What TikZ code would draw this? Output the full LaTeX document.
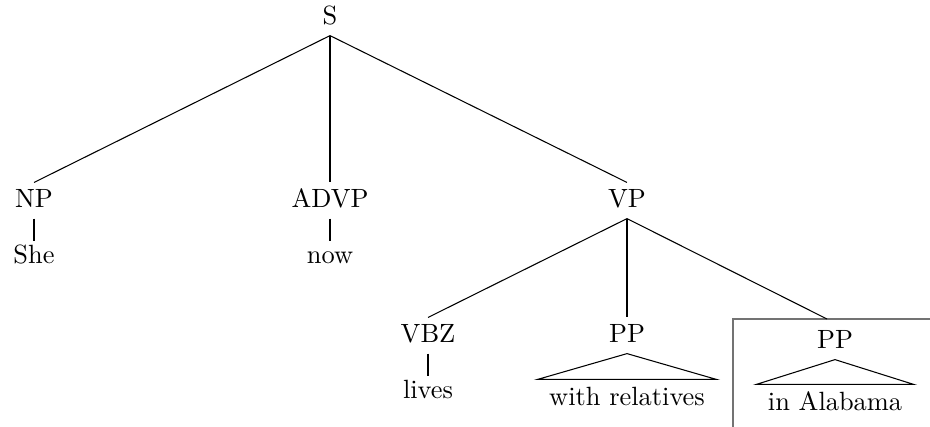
\documentclass[tikz,border=0pt]{standalone}
\begin{document}
\begin{tikzpicture}[x=0.379pt,y=-0.379pt,
  cat/.style={anchor=base,inner sep=0pt,text height=9.1pt,text depth=4.2pt},
  word/.style={anchor=base,inner sep=0pt,text height=8.3pt,text depth=0pt},
  roof/.style={anchor=base,inner ysep=0pt,inner xsep=4.2pt,text height=9.5pt,text depth=0pt},
  edge/.style={draw=black,line width=0.4pt},
  boxline/.style={draw=black!55,line width=0.7pt}]
\useasboundingbox (0,0) rectangle (930,426);
% categories
\node[cat] (S) at (330,24) {S};
\node[cat] (NP) at (34,207) {NP};
\node[cat] (ADVP) at (330,207) {ADVP};
\node[cat] (VP) at (627,207) {VP};
\node[cat] (VBZ) at (428,342) {VBZ};
\node[cat] (PP1) at (627,342) {PP};
\node[cat] (PP2) at (835,348) {PP};
% words
\node[word] (she) at (34,263) {She};
\node[word] (now) at (330,263) {now};
\node[word] (lives) at (428,398) {lives};
\node[roof] (wr) at (627,405) {with relatives};
\node[roof] (ia) at (835,410) {in Alabama};
% box around boxed PP
\coordinate (boxtop) at (827,319);
\begin{scope}
\clip (0,0) rectangle (930,426);
\draw[boxline] (733,440) -- (733,319) -- (945,319);
\end{scope}
% edges
\draw[edge] (S.south) -- (NP.north);
\draw[edge] (S.south) -- (ADVP.north);
\draw[edge] (S.south) -- (VP.north);
\draw[edge] (NP.south) -- (she.north);
\draw[edge] (ADVP.south) -- (now.north);
\draw[edge] (VP.south) -- (VBZ.north);
\draw[edge] (VP.south) -- (PP1.north);
\draw[edge] (VP.south) -- (boxtop);
\draw[edge] (VBZ.south) -- (lives.north);
\draw[edge] (PP1.south) -- (wr.north west) -- (wr.north east) -- cycle;
\draw[edge] (PP2.south) -- (ia.north west) -- (ia.north east) -- cycle;
\end{tikzpicture}
\end{document}
